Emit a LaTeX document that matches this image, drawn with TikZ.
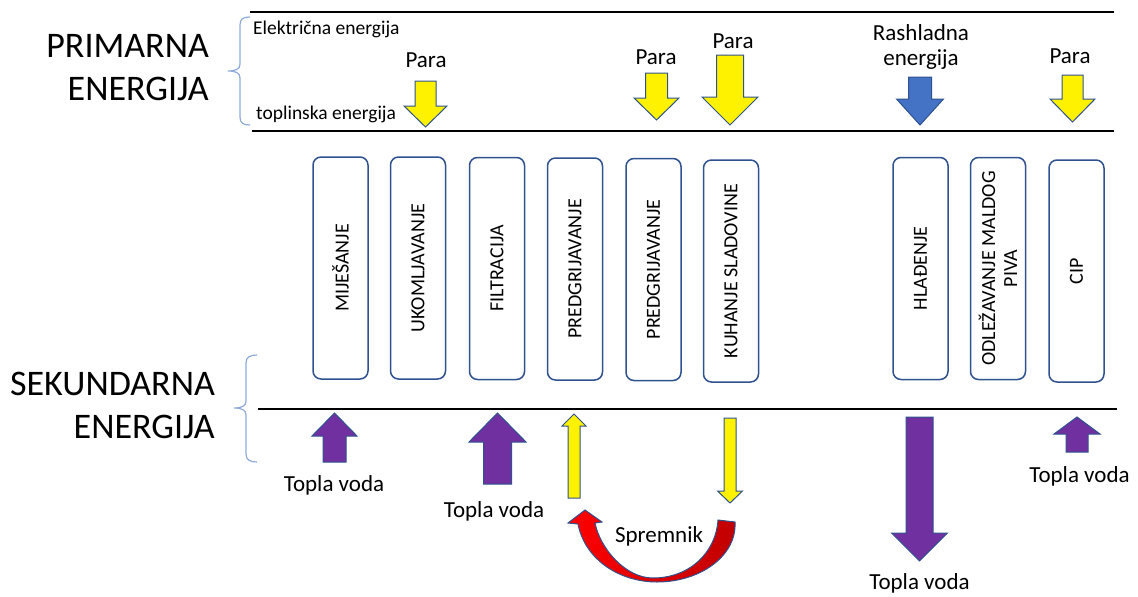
\documentclass[tikz,border=0pt]{standalone}
\usepackage{fontspec}
\setmainfont{Carlito}
\definecolor{boxblue}{HTML}{2F528F}
\definecolor{bracecol}{HTML}{8FAADC}
\definecolor{purp}{HTML}{7030A0}
\definecolor{coolblue}{HTML}{4472C4}
\definecolor{darkred}{HTML}{C00000}
\newcommand{\blkarrow}[7]{% style, cx, base y, head y, tip y, shaft half, head half
  \path[#1] (#2-#6,#3) -- (#2+#6,#3) -- (#2+#6,#4) -- (#2+#7,#4) -- (#2,#5) -- (#2-#7,#4) -- (#2-#6,#4) -- cycle;}
\begin{document}
\begin{tikzpicture}[x=1pt,y=-1pt,
  procbox/.style={draw=boxblue, line width=1.5pt, fill=white, rounded corners=8pt, rotate=90,
    minimum width=222pt, minimum height=55pt, inner sep=0pt, align=center,
    font=\fontsize{20}{22}\selectfont},
  lbl/.style={inner sep=0pt, anchor=base, font=\fontsize{23}{26}\selectfont},
  smalltxt/.style={inner sep=0pt, anchor=base west, font=\fontsize{19.5}{23}\selectfont},
  bigtxt/.style={inner sep=0pt, anchor=base east, font=\fontsize{36}{43}\selectfont},
  sepline/.style={line width=2.5pt, black},
  bracestyle/.style={draw=bracecol, line width=1.2pt},
  yarrow/.style={fill=yellow, draw=boxblue, line width=1pt},
  parrow/.style={fill=purp, draw=boxblue, line width=1pt},
  barrow/.style={fill=coolblue, draw=boxblue, line width=1pt},
]
\useasboundingbox (0,0) rectangle (1138,597);

% separator lines
\coordinate (l1a) at (250,12);  \coordinate (l1b) at (1114,12);
\coordinate (l2a) at (252,131); \coordinate (l2b) at (1114,131);
\coordinate (l3a) at (258,409); \coordinate (l3b) at (1117,409);
\draw[sepline] (l1a) -- (l1b);
\draw[sepline] (l2a) -- (l2b);
\draw[sepline] (l3a) -- (l3b);

% braces
\draw[bracestyle] (250,17) .. controls (243,17) and (240,19) .. (240,25) -- (240,64)
  .. controls (240,69) and (236,71) .. (228,71) .. controls (236,71) and (240,73) .. (240,78)
  -- (240,117) .. controls (240,123) and (243,125) .. (250,125);
\draw[bracestyle] (257,355) .. controls (250,355) and (246,357) .. (246,363) -- (246,401)
  .. controls (246,406) and (242,408) .. (234,408) .. controls (242,408) and (246,410) .. (246,415)
  -- (246,454) .. controls (246,460) and (250,462) .. (257,462);

% left titles
\node[bigtxt] (prim1) at (209,57) {PRIMARNA};
\node[bigtxt] (prim2) at (209,100) {ENERGIJA};
\node[bigtxt] (sek1) at (215,395) {SEKUNDARNA};
\node[bigtxt] (sek2) at (215,438) {ENERGIJA};

% small labels
\node[smalltxt] (elek) at (253,34.5) {Električna energija};
\node[smalltxt] (topl) at (256,119) {toplinska energija};

% top labels
\node[lbl] (para1) at (426,67) {Para};
\node[lbl] (para2) at (656,64) {Para};
\node[lbl] (para3) at (733,48) {Para};
\node[lbl] (rash1) at (921,40) {Rashladna};
\node[lbl] (rash2) at (921,65) {energija};
\node[lbl] (para4) at (1070,63) {Para};

% top arrows
\blkarrow{yarrow}{425.5}{81}{106}{127}{10.5}{21.5}
\blkarrow{yarrow}{656.5}{73}{98}{120}{11}{22.5}
\blkarrow{yarrow}{730}{55}{97}{125}{13.5}{28}
\blkarrow{barrow}{920}{77}{99}{125}{11.5}{23.5}
\blkarrow{yarrow}{1072.5}{75}{99}{122}{10.5}{22.5}

% process boxes
\node[procbox] (b1) at (340.5,268) {MIJEŠANJE};
\node[procbox] (b2) at (418,268) {UKOMLJAVANJE};
\node[procbox] (b3) at (497,268.5) {FILTRACIJA};
\node[procbox] (b4) at (575,269) {PREDGRIJAVANJE};
\node[procbox] (b5) at (653.5,269.5) {PREDGRIJAVANJE};
\node[procbox] (b6) at (731,271) {KUHANJE SLADOVINE};
\node[procbox] (b7) at (920.5,268.5) {HLAĐENJE};
\node[procbox] (b8) at (998,268.5) {ODLEŽAVANJE MALDOG\\PIVA};
\node[procbox] (b9) at (1076.5,271) {CIP};

% bottom arrows
\blkarrow{parrow}{334.5}{462}{436}{413}{11.5}{22.5}
\blkarrow{parrow}{497.5}{484}{442}{413}{14}{28.5}
\blkarrow{yarrow}{574}{498}{426}{414}{6}{12}
\blkarrow{yarrow}{730}{418}{491}{503}{6}{12.5}
\blkarrow{parrow}{919.5}{417}{533}{561}{13.5}{28}
\blkarrow{parrow}{1077}{452}{434}{417}{11}{23}

% curved storage arrow
\path[draw=boxblue, line width=1pt, left color=red, right color=darkred]
  (718,520) -- (735,522)
  .. controls (737,556) and (700,582) .. (657,582)
  .. controls (620,582) and (585,560) .. (578,524)
  -- (568,523) -- (585,510) -- (602,522) -- (595,523)
  .. controls (600,548) and (625,578) .. (653,578)
  .. controls (690,578) and (716,552) .. (718,520) -- cycle;

% bottom labels
\node[lbl] (tv1) at (334,491) {Topla voda};
\node[lbl] (tv2) at (494,517) {Topla voda};
\node[lbl] (sprem) at (659,542) {Spremnik};
\node[lbl] (tv3) at (919.5,589) {Topla voda};
\node[lbl] (tv4) at (1079.5,482) {Topla voda};
\end{tikzpicture}
\end{document}
